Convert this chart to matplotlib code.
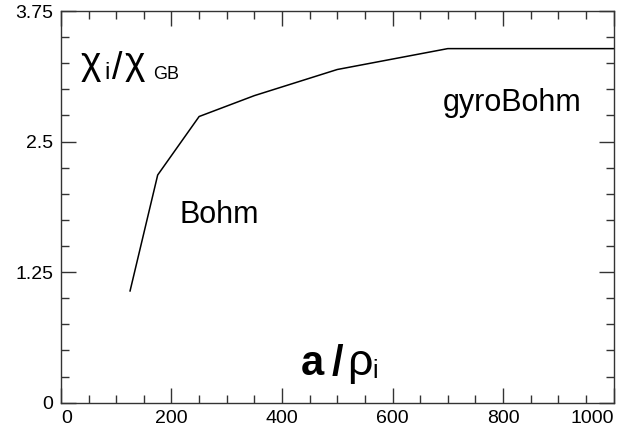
import numpy as np
import matplotlib.pyplot as plt
from matplotlib.ticker import MultipleLocator

# Data
a_over_rho = [125, 175, 250, 350, 500, 700, 1000]
chi_ratio = [1.07, 2.18, 2.74, 2.94, 3.19, 3.39, 3.39]

x_ticks = [0, 200, 400, 600, 800, 1000]
x_tick_labels = ['0', '200', '400', '600', '800', '1000']
y_ticks = [0, 1.25, 2.5, 3.75]
y_tick_labels = ['0', '1.25', '2.5', '3.75']

plt.rcParams['font.family'] = ['Liberation Sans', 'DejaVu Sans']
plt.rcParams['xtick.labelsize'] = 14
plt.rcParams['ytick.labelsize'] = 14

fig = plt.figure(figsize=(6.34, 4.32), dpi=100)
ax = fig.add_axes([0.0962, 0.0678, 0.8715, 0.9067])

ax.plot(a_over_rho, chi_ratio, color='black', linewidth=1.1)

ax.set_xlim(0, 1000)
ax.set_ylim(0, 3.75)
ax.xaxis.set_minor_locator(MultipleLocator(50))
ax.yaxis.set_minor_locator(MultipleLocator(0.25))

ax.tick_params(which='both', direction='in', top=True, right=True,
               color='#333333', width=1.0)
ax.tick_params(which='major', length=10.5)
ax.tick_params(which='minor', length=6)
ax.tick_params(axis='x', pad=5)
ax.tick_params(axis='y', pad=5.5)

ax.set_xticks(x_ticks)
ax.set_xticklabels(x_tick_labels, fontsize=14)
ax.set_yticks(y_ticks)
ax.set_yticklabels(y_tick_labels, fontsize=14)
xlabels = ax.get_xticklabels()
xlabels[0].set_horizontalalignment('left')
xlabels[-1].set_horizontalalignment('right')

for s in ax.spines.values():
    s.set_color('#333333')
    s.set_linewidth(1.0)

# y label: chi_i / chi_GB, written inside the frame
ax.text(36, 3.15, 'χ', fontsize=28, ha='left', va='baseline')
ax.text(78, 3.10, 'i', fontsize=17, ha='left', va='baseline')
ax.text(92, 3.10, '/', fontsize=27, ha='left', va='baseline')
ax.text(116, 3.15, 'χ', fontsize=28, ha='left', va='baseline')
ax.text(167, 3.10, 'GB', fontsize=13, ha='left', va='baseline')

ax.text(691, 2.79, 'gyroBohm', fontsize=22, ha='left', va='baseline')
ax.text(215, 1.72, 'Bohm', fontsize=22, ha='left', va='baseline')

# x label: a / rho_i, written inside the frame
ax.text(434, 0.264, 'a', fontsize=30, fontweight='bold', ha='left', va='baseline')
ax.text(489, 0.264, '/', fontsize=30, fontweight='bold', ha='left', va='baseline')
ax.text(517, 0.264, 'ρ', fontsize=32, ha='left', va='baseline')
ax.text(563, 0.24, 'i', fontsize=18, ha='left', va='baseline')

plt.savefig('out.png', dpi=100)
